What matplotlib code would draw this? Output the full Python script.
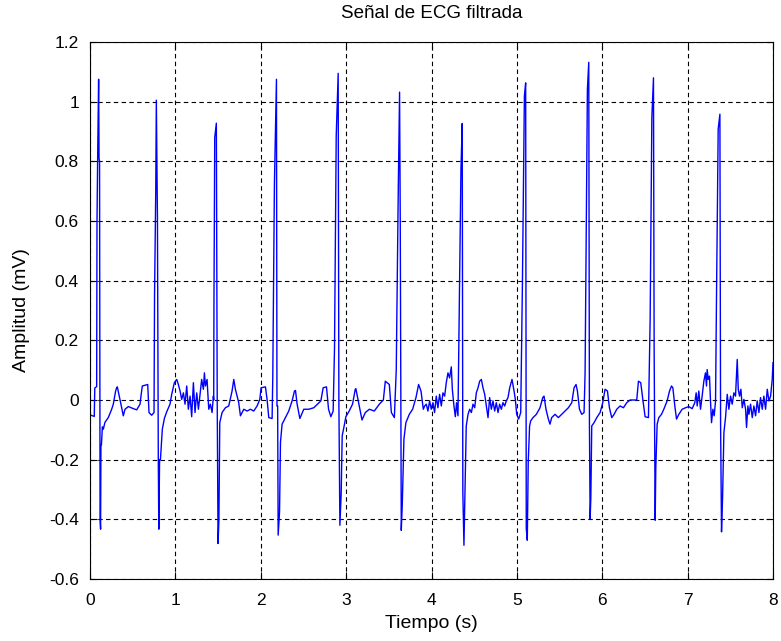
import matplotlib
matplotlib.use("Agg")
import matplotlib.pyplot as plt

plt.rcParams['font.family'] = ['Liberation Sans', 'DejaVu Sans']

title_text = "Señal de ECG filtrada"
xlabel_text = "Tiempo (s)"
ylabel_text = "Amplitud (mV)"
x_ticks = [0, 1, 2, 3, 4, 5, 6, 7, 8]
y_ticks = [-0.6, -0.4, -0.2, 0, 0.2, 0.4, 0.6, 0.8, 1, 1.2]
y_tick_labels = ["-0.6", "-0.4", "-0.2", "0", "0.2", "0.4", "0.6", "0.8", "1", "1.2"]

# ECG trace: time (s) and amplitude (mV)
time_s = [
    0.000, 0.050, 0.056, 0.078, 0.082, 0.090, 0.101, 0.106, 0.112, 0.118, 0.124, 0.128, 0.134, 0.145,
    0.156, 0.175, 0.214, 0.254, 0.273, 0.300, 0.312, 0.320, 0.351, 0.371, 0.390, 0.410, 0.449, 0.508,
    0.547, 0.586, 0.600, 0.613, 0.676, 0.691, 0.722, 0.750,
    0.756, 0.770, 0.777, 0.790, 0.800, 0.806, 0.815, 0.825, 0.847, 0.871, 0.898, 0.937, 0.957, 0.988,
    1.016, 1.035,
    1.055, 1.074, 1.094, 1.113, 1.133, 1.152, 1.172, 1.191, 1.211, 1.230, 1.250, 1.270, 1.289, 1.308,
    1.328, 1.340, 1.352, 1.371, 1.391, 1.410, 1.430, 1.445,
    1.449, 1.452, 1.461, 1.480, 1.490, 1.500, 1.510, 1.520, 1.547, 1.586, 1.625, 1.664, 1.684, 1.703,
    1.742, 1.762, 1.801, 1.840, 1.879, 1.918, 1.957, 1.989, 2.004, 2.055, 2.074, 2.094, 2.133, 2.141,
    2.160, 2.184, 2.190, 2.198, 2.204, 2.220, 2.231, 2.250, 2.289, 2.328, 2.367, 2.395, 2.407, 2.426,
    2.458, 2.504, 2.563, 2.621, 2.665, 2.704, 2.731, 2.770, 2.794, 2.821, 2.848, 2.864,
    2.884, 2.907, 2.915, 2.927, 2.942, 2.954, 2.977, 2.997, 3.036, 3.075, 3.107, 3.114, 3.146, 3.186,
    3.225, 3.272, 3.330, 3.389, 3.436, 3.459, 3.506, 3.530, 3.565, 3.587,
    3.611, 3.626, 3.634, 3.646, 3.658, 3.677, 3.700, 3.740, 3.779, 3.818, 3.849, 3.877, 3.904, 3.920,
    3.939, 3.958, 3.978, 3.997, 4.017, 4.036, 4.056, 4.075, 4.095, 4.115, 4.134, 4.154, 4.173, 4.193,
    4.212, 4.232, 4.244, 4.263, 4.279, 4.294, 4.310, 4.321,
    4.345, 4.360, 4.367, 4.380, 4.392, 4.407, 4.428, 4.447, 4.467, 4.486, 4.506, 4.525, 4.545, 4.564,
    4.584, 4.603, 4.623, 4.642, 4.662, 4.681, 4.701, 4.720, 4.740, 4.759, 4.779, 4.798, 4.818, 4.837,
    4.857, 4.876, 4.896, 4.916, 4.943, 4.967, 4.982, 4.998, 5.021, 5.045, 5.065,
    5.088, 5.103, 5.110, 5.122, 5.133, 5.149, 5.162, 5.189, 5.228, 5.271, 5.303, 5.318, 5.341, 5.369,
    5.388, 5.408, 5.447, 5.486, 5.525, 5.564, 5.603, 5.643, 5.670, 5.693, 5.709, 5.733, 5.760, 5.787,
    5.799,
    5.826, 5.842, 5.850, 5.858, 5.866, 5.877, 5.904, 5.936, 5.975, 6.006, 6.033, 6.061, 6.084, 6.111,
    6.139, 6.170, 6.209, 6.248, 6.287, 6.326, 6.404, 6.424, 6.451, 6.475, 6.502, 6.541, 6.561,
    6.581, 6.600, 6.608, 6.620, 6.627, 6.643, 6.663, 6.694, 6.721, 6.760, 6.788, 6.811, 6.827, 6.850,
    6.870, 6.897, 6.936, 6.975, 7.014, 7.053, 7.084, 7.100, 7.112, 7.131, 7.151, 7.170, 7.190, 7.209,
    7.221, 7.229, 7.241, 7.256, 7.268, 7.280, 7.296, 7.311, 7.327, 7.339,
    7.358, 7.378, 7.386, 7.397, 7.409, 7.425, 7.444, 7.464, 7.483, 7.503, 7.522, 7.542, 7.561, 7.581,
    7.593, 7.608, 7.624, 7.640, 7.659, 7.679, 7.690, 7.706, 7.718, 7.737, 7.757, 7.776, 7.796, 7.815,
    7.835, 7.854, 7.874, 7.893, 7.913, 7.933, 7.952, 7.972, 7.991, 8.000,
]
amplitude_mv = [
    -0.050, -0.055, 0.040, 0.045, 0.600, 0.820, 1.075, 0.810, 0.800, -0.400, -0.433, -0.155, -0.150, -0.090,
    -0.098, -0.075, -0.059, -0.031, -0.014, 0.030, 0.041, 0.044, 0.002, -0.026, -0.053, -0.031, -0.022, -0.029,
    -0.033, -0.014, 0.020, 0.047, 0.052, -0.042, -0.051, -0.042,
    0.350, 0.700, 1.005, 0.610, -0.200, -0.433, -0.200, -0.200, -0.098, -0.062, -0.040, -0.014, 0.019, 0.058,
    0.069, 0.052,
    0.030, 0.002, 0.024, -0.014, 0.047, -0.031, 0.013, -0.056, 0.058, -0.042, 0.024, -0.031, 0.019, 0.069,
    0.036, 0.091, 0.047, 0.069, -0.031, -0.014, -0.042, 0.013,
    0.000, 0.330, 0.880, 0.928, 0.000, -0.481, -0.400, -0.076, -0.042, -0.026, -0.020, 0.030, 0.069, 0.036,
    -0.009, -0.053, -0.031, -0.037, -0.031, -0.037, -0.020, 0.002, 0.041, 0.044, 0.002, -0.059, -0.062, 0.080,
    0.722, 1.075, -0.020, -0.020, -0.453, -0.376, -0.142, -0.081, -0.059, -0.037, -0.003, 0.030, 0.032, -0.014,
    -0.062, -0.031, -0.031, -0.026, -0.014, -0.003, 0.041, 0.044, -0.031, -0.056, -0.037, 0.174,
    0.886, 1.095, 0.000, -0.420, -0.314, -0.120, -0.087, -0.056, -0.037, -0.014, 0.036, 0.038, -0.009, -0.067,
    -0.042, -0.031, -0.037, -0.014, 0.000, 0.063, 0.052, -0.042, -0.059, 0.100,
    0.708, 1.032, 0.600, -0.437, -0.348, -0.131, -0.076, -0.048, -0.031, 0.008, 0.052, 0.030, -0.031, -0.020,
    -0.014, -0.037, -0.003, -0.031, -0.009, -0.042, 0.013, -0.026, 0.019, -0.020, 0.024, 0.013, 0.058, 0.091,
    0.074, 0.111, 0.036, -0.020, -0.056, -0.009, -0.053, 0.208,
    0.774, 0.927, -0.309, -0.487, -0.309, -0.087, -0.048, -0.031, -0.042, -0.014, -0.026, 0.024, 0.041, 0.063,
    0.069, 0.041, 0.019, -0.020, -0.059, 0.008, -0.031, -0.003, -0.037, -0.009, -0.042, -0.014, -0.031, -0.009,
    -0.020, -0.003, 0.008, 0.041, 0.069, 0.030, 0.002, -0.048, -0.064, -0.042, 0.391,
    1.019, 1.063, -0.431, -0.470, -0.209, -0.087, -0.070, -0.059, -0.048, -0.026, 0.008, 0.013, -0.031, -0.064,
    -0.081, -0.059, -0.048, -0.059, -0.048, -0.037, -0.026, -0.009, 0.041, 0.052, 0.030, -0.031, -0.048, -0.042,
    0.091,
    1.041, 1.132, -0.087, -0.398, -0.331, -0.087, -0.076, -0.059, -0.042, -0.009, 0.036, 0.030, -0.026, -0.059,
    -0.048, -0.031, -0.020, -0.026, -0.009, 0.000, 0.000, 0.063, 0.058, 0.002, -0.056, -0.059, 0.269,
    0.947, 1.080, 0.158, -0.403, -0.231, -0.081, -0.059, -0.048, -0.031, -0.003, 0.030, 0.047, 0.041, -0.020,
    -0.064, -0.048, -0.031, -0.026, -0.022, -0.029, -0.009, 0.024, -0.020, 0.030, -0.031, 0.013, 0.063, 0.091,
    0.047, 0.102, 0.069, 0.080, -0.003, -0.076, -0.031, -0.053, -0.003, 0.369,
    0.908, 0.958, -0.076, -0.442, -0.331, -0.109, -0.059, 0.019, -0.031, 0.013, -0.014, 0.024, 0.013, 0.136,
    0.036, 0.013, 0.036, -0.026, 0.002, -0.031, -0.092, -0.020, -0.048, -0.014, -0.059, -0.020, -0.053, -0.003,
    -0.042, 0.008, -0.031, 0.013, -0.031, 0.036, -0.003, 0.013, 0.069, 0.125,
]

fig = plt.figure(figsize=(7.81, 6.41), dpi=100)
ax = fig.add_axes([90 / 781, (641 - 579) / 641, 683 / 781, 537 / 641])
ax.plot(time_s, amplitude_mv, color=(0, 0, 1), linewidth=1.0)

ax.set_xlim(0, 8)
ax.set_ylim(-0.6, 1.2)
ax.set_xticks(x_ticks)
ax.set_yticks(y_ticks)
ax.set_yticklabels(y_tick_labels)
ax.grid(True, color='black', linestyle=(0, (4, 3)), linewidth=0.8)
ax.tick_params(direction='in', top=True, right=True, length=5, labelsize=12.5, width=0.8)
ax.tick_params(axis='x', pad=10)
ax.tick_params(axis='y', pad=8)
for s in ax.spines.values():
    s.set_linewidth(0.8)
ax.set_title(title_text, fontsize=13.5, pad=17)
ax.set_xlabel(xlabel_text, fontsize=14, labelpad=5)
ax.set_ylabel(ylabel_text, fontsize=14, labelpad=14)

fig.savefig("out.png", dpi=100)
